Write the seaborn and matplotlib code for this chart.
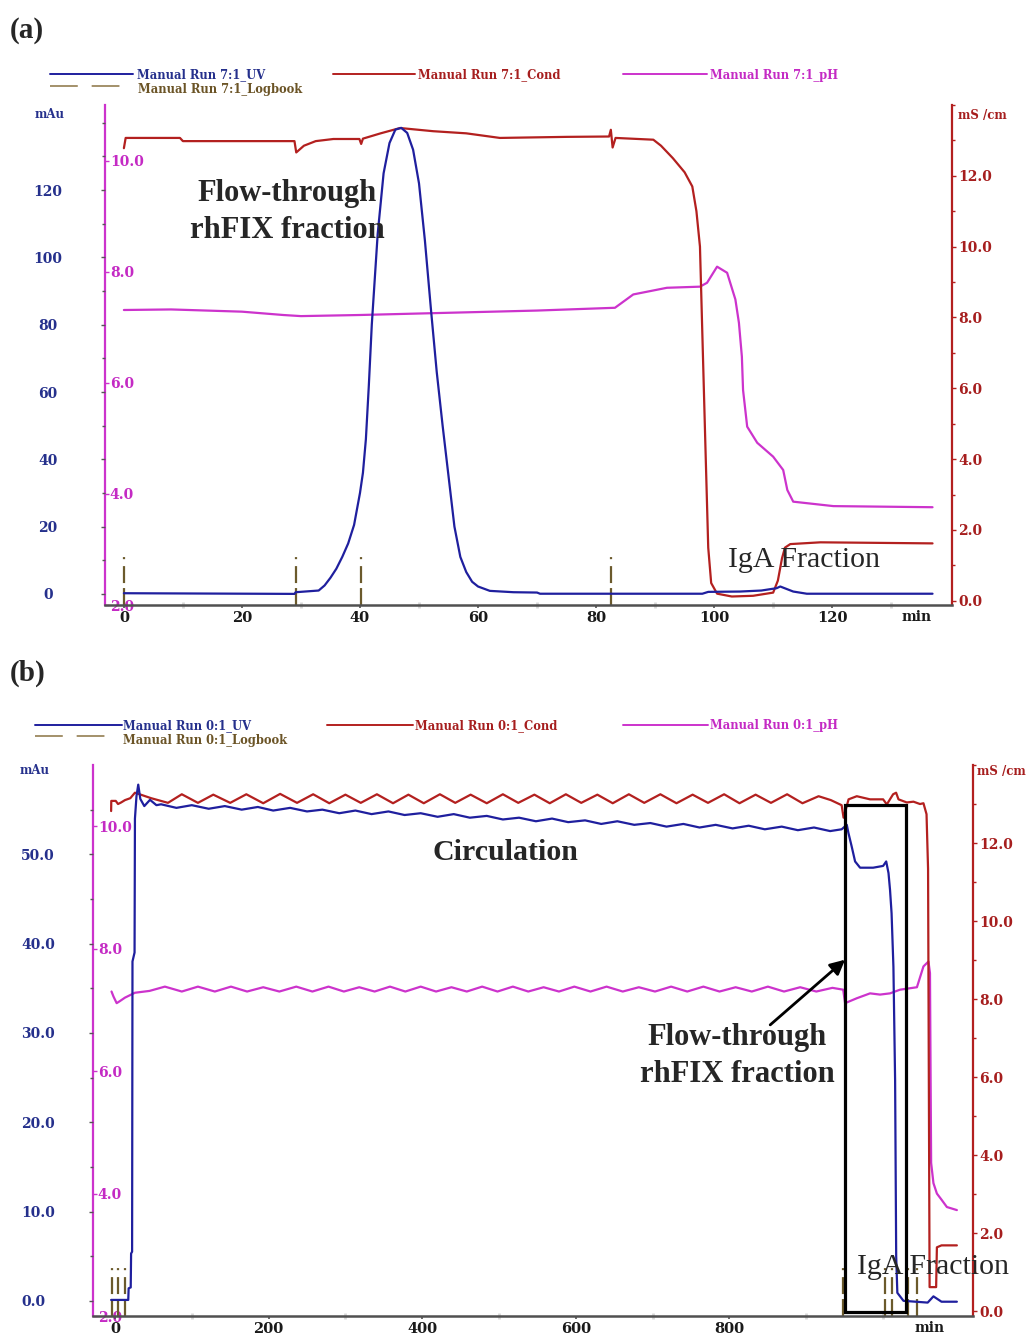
import numpy as np
import pandas as pd
import matplotlib
matplotlib.use("Agg")
import matplotlib.pyplot as plt
from matplotlib.lines import Line2D
from matplotlib.patches import Rectangle
import seaborn as sns

# ---------------- Run 7 (panel a): time [min], value ----------------
uv_a = [(0, 0.2), (28.9, 0.0), (29.1, 0.5), (33.0, 1.0), (34, 2.5), (35, 4.8), (36, 7.5),
        (37, 11), (38, 15), (39, 20.5), (40, 30), (40.5, 36), (41, 46), (41.5, 62), (42, 80),
        (43, 107), (44, 125), (45, 134), (46, 138), (47, 138.5), (48, 137), (49, 132),
        (50, 122), (51, 105), (52, 85), (53, 66), (54, 50), (55, 35), (56, 20), (57, 11),
        (58, 6.5), (59, 3.6), (60, 2.2), (62, 0.9), (66, 0.5), (70, 0.4), (70.5, 0.05),
        (98, 0.05), (99, 0.6), (104.4, 0.7), (108, 1.0), (110.6, 1.7), (111.2, 2.2),
        (113.4, 0.7), (115.7, 0.05), (137, 0.05)]

cond_a = [(0, 12.78), (0.3, 13.07), (9.5, 13.07), (10, 12.98), (28.9, 12.98), (29.2, 12.66),
          (30.5, 12.85), (32.5, 12.98), (35.5, 13.04), (39.9, 13.04), (40.2, 12.9), (40.5, 13.05),
          (43.5, 13.2), (46.8, 13.35), (52.4, 13.26), (58, 13.2), (63.7, 13.07), (75, 13.1),
          (82.2, 13.11), (82.5, 13.3), (82.8, 12.8), (83.3, 13.07), (89.7, 13.02), (91, 12.85),
          (93, 12.5), (95, 12.1), (96.3, 11.7), (97.0, 11.0), (97.6, 10.0), (98.5, 4.5),
          (99.0, 1.5), (99.5, 0.5), (100.5, 0.2), (103, 0.12), (106.6, 0.14), (110, 0.23),
          (110.8, 0.57), (111.5, 1.2), (112, 1.5), (112.9, 1.6), (118, 1.65), (137, 1.62)]

ph_a = [(0, 7.31), (8, 7.32), (20, 7.28), (27, 7.22), (30, 7.2), (40, 7.22), (55, 7.26),
        (70, 7.3), (83.2, 7.35), (86.3, 7.59), (92, 7.71), (97.6, 7.73), (98.8, 7.8),
        (100.5, 8.09), (102.2, 7.98), (103.6, 7.5), (104.2, 7.08), (104.7, 6.47), (104.9, 5.87),
        (105.6, 5.21), (107.3, 4.92), (110, 4.67), (111.7, 4.43), (112.4, 4.07), (113.4, 3.86),
        (120.2, 3.78), (137, 3.76)]

logbook_a = [0, 29.1, 40.2, 82.6]

# ---------------- Run 0 (panel b): time [min], value ----------------
uv_b = [(-5, 0.1), (17.3, 0.1), (17.8, 1.4), (20.5, 1.5), (21.0, 5.3), (22.3, 5.5), (22.8, 38.0),
        (25.5, 39.0), (26.0, 54.0), (28.0, 56.5), (30.3, 57.8), (33.0, 56.2), (38.2, 55.4),
        (45.6, 56.1), (54.0, 55.5), (60, 55.6), (80, 55.2), (100, 55.5), (122, 55.1), (143, 55.4),
        (165, 55.0), (186, 55.3), (206, 54.9), (228, 55.2), (250, 54.8), (270, 55.0), (292, 54.6),
        (313, 54.9), (334, 54.5), (356, 54.8), (377, 54.4), (398, 54.6), (420, 54.2), (441, 54.5),
        (462, 54.1), (484, 54.3), (505, 53.9), (526, 54.1), (548, 53.7), (569, 54.0), (590, 53.6),
        (612, 53.8), (633, 53.4), (654, 53.7), (676, 53.3), (697, 53.5), (718, 53.1), (740, 53.4),
        (761, 53.0), (782, 53.3), (804, 52.9), (825, 53.2), (846, 52.8), (868, 53.1), (889, 52.7),
        (910, 53.0), (931, 52.6), (946, 52.8), (952.7, 53.3), (954.8, 52.4), (959, 50.9),
        (963.5, 49.2), (970, 48.5), (987, 48.5), (1000, 48.7), (1004, 49.2), (1007, 47.9),
        (1009, 46.0), (1011, 43.4), (1013.4, 37.4), (1015.6, 24.7), (1017, 5.0), (1018.5, 0.9),
        (1026.5, 0.0), (1058, -0.2), (1065.5, 0.5), (1076, -0.1), (1096, -0.1)]

cond_b = [(-5, 12.82), (-4.8, 13.08), (1, 13.08), (4, 13.0), (8, 13.04), (13, 13.1), (20, 13.15),
          (26, 13.29), (47, 13.15), (69, 13.03), (87, 13.25), (108, 13.03), (128, 13.24),
          (150, 13.03), (171, 13.25), (193, 13.02), (215, 13.26), (237, 13.03), (258, 13.25),
          (279, 13.02), (300, 13.24), (320, 13.03), (341, 13.25), (362, 13.02), (382, 13.24),
          (402, 13.02), (423, 13.25), (443, 13.03), (463, 13.24), (484, 13.02), (505, 13.25),
          (525, 13.03), (546, 13.24), (566, 13.02), (587, 13.25), (607, 13.03), (628, 13.24),
          (648, 13.02), (669, 13.25), (689, 13.03), (710, 13.25), (731, 13.02), (752, 13.24),
          (772, 13.03), (793, 13.25), (813, 13.02), (834, 13.24), (854, 13.03), (875, 13.25),
          (895, 13.02), (916, 13.2), (932, 13.1), (946, 12.97), (948.5, 12.65), (955, 13.12),
          (965.7, 13.2), (983, 13.12), (1000, 13.12), (1004.8, 12.99), (1013, 13.25),
          (1016.9, 13.29), (1020, 13.12), (1030.8, 13.04), (1039.5, 13.06), (1048, 13.0),
          (1052.5, 13.02), (1056.5, 12.74), (1058.5, 11.34), (1059.5, 6.0), (1060.5, 0.62),
          (1069, 0.62), (1070, 1.64), (1076, 1.69), (1096, 1.69)]

ph_b = [(-4.5, 7.30), (-2.0, 7.22), (2.2, 7.11), (6, 7.14), (13, 7.20), (26, 7.28), (45, 7.31),
        (65, 7.38), (87, 7.30), (108, 7.38), (130, 7.30), (151, 7.38), (172, 7.30), (193, 7.37),
        (214, 7.30), (236, 7.38), (257, 7.30), (278, 7.38), (298, 7.30), (318, 7.37), (338, 7.30),
        (358, 7.38), (378, 7.30), (398, 7.38), (418, 7.30), (438, 7.37), (458, 7.30), (478, 7.38),
        (498, 7.30), (518, 7.38), (538, 7.30), (558, 7.37), (578, 7.30), (598, 7.38), (619, 7.30),
        (640, 7.38), (661, 7.30), (682, 7.37), (703, 7.30), (724, 7.38), (745, 7.30), (766, 7.38),
        (787, 7.30), (808, 7.37), (829, 7.30), (850, 7.38), (871, 7.30), (892, 7.37), (913, 7.30),
        (934, 7.36), (948, 7.33), (950.5, 7.11), (965.7, 7.19), (983, 7.27), (996, 7.25),
        (1009, 7.27), (1022, 7.33), (1044, 7.37), (1052.5, 7.71), (1059, 7.79), (1061, 7.6),
        (1061.8, 5.9), (1062.5, 4.5), (1065.5, 4.17), (1070, 4.0), (1076, 3.9), (1083, 3.78),
        (1096, 3.73)]

logbook_b = [-4, 4, 13, 948, 1003, 1011, 1033, 1044]

# tick values and their labels
x_ticks_a = [0, 20, 40, 60, 80, 100, 120]
x_ticks_b = [0, 200, 400, 600, 800]
uv_ticks_a = [0, 20, 40, 60, 80, 100, 120]
uv_ticks_b = [0, 10, 20, 30, 40, 50]
ph_ticks = [2, 4, 6, 8, 10]
cond_ticks = [0, 2, 4, 6, 8, 10, 12]

# flow-through window marked in run 0 (min, mAu)
window_b_time = (950.5, 1030)
window_b_uv = (-1.2, 55.5)

run_names = {"a": "Manual Run 7:1", "b": "Manual Run 0:1"}

# ---------------- styling ----------------
sns.set_theme(style="white")
plt.rcParams["font.family"] = ["DejaVu Serif"]
plt.rcParams["lines.scale_dashes"] = False

C_UV, C_COND, C_PH = "#1f1f9e", "#b3201f", "#cc33cc"
C_UV_TXT, C_COND_TXT, C_PH_TXT = "#25308c", "#a61e1e", "#c42ac4"
C_LOG, C_LOG_LEG, C_AXIS = "#6b5a2c", "#a3906a", "#505050"
SERIF = ["Liberation Serif", "DejaVu Serif"]

W, H = 1035, 1334
fig = plt.figure(figsize=(W / 100, H / 100), dpi=100)
fig.patch.set_facecolor("white")
PX = 100 / 72  # pixels per point


def fx(px):
    return px / W


def fy(py):
    return 1 - py / H


def draw_series(ax, pairs, name, color, lw=1.6):
    df = pd.DataFrame(pairs, columns=["time", name])
    sns.lineplot(data=df, x="time", y=name, ax=ax, color=color, lw=lw,
                 sort=False, estimator=None, errorbar=None, legend=False)
    ax.set(xlabel="", ylabel="")


def draw_panel(rect, xlim, uv_lim, uv, cond, ph, logbook, x_ticks, x_minor,
               uv_ticks, uv_minor, uv_fmt, uv_ha, uv_label_x):
    left, top, right, bottom = rect
    ax = fig.add_axes([fx(left), fy(bottom), fx(right - left), (bottom - top) / H])
    ax_ph = ax.twinx()
    ax_cond = ax.twinx()
    ax.set_zorder(ax_cond.get_zorder() + 1)
    ax.patch.set_visible(False)

    draw_series(ax_ph, ph, "pH", C_PH)
    draw_series(ax_cond, cond, "cond", C_COND)
    draw_series(ax, uv, "uv", C_UV)

    for t in logbook:
        ax.axvline(t, ymin=0, ymax=0.098, color=C_LOG, lw=1.6,
                   linestyle=(0, (12.2, 3.6, 12.2, 5, 1.5, 30)), zorder=1)

    ax.set_xlim(*xlim)
    ax.set_ylim(*uv_lim)
    ax_ph.set_ylim(2, 11)
    ax_cond.set_ylim(-0.12, 14.0)

    # spines
    for a in (ax, ax_ph, ax_cond):
        for s in a.spines.values():
            s.set_visible(False)
    ax.spines["bottom"].set_visible(True)
    ax.spines["bottom"].set_color(C_AXIS)
    ax.spines["bottom"].set_linewidth(1.8)
    ax_ph.spines["left"].set_visible(True)
    ax_ph.spines["left"].set_color(C_PH)
    ax_ph.spines["left"].set_linewidth(1.6)
    ax_cond.spines["right"].set_visible(True)
    ax_cond.spines["right"].set_color(C_COND)
    ax_cond.spines["right"].set_linewidth(1.6)

    # x axis
    ax.set_xticks(x_ticks, labels=[str(v) for v in x_ticks], fontsize=10.5,
                  fontweight="bold", color="#1a1a1a")
    ax.set_xticks(x_minor, minor=True)
    ax.tick_params(axis="x", which="major", direction="out", length=2.5, width=1.2,
                   color=C_AXIS, pad=2, bottom=True)
    ax.tick_params(axis="x", which="minor", direction="inout", length=4, width=2,
                   color="#d8d8d8", bottom=True)

    # UV axis (outer left)
    pad_uv = (left - uv_label_x) / PX - 3
    ax.yaxis.tick_left()
    ax.set_yticks(uv_ticks, labels=[uv_fmt.format(v) for v in uv_ticks], fontsize=10,
                  fontweight="bold", color=C_UV_TXT, ha=uv_ha)
    ax.set_yticks(uv_minor, minor=True)
    ax.tick_params(axis="y", which="both", direction="out", length=3, width=1,
                   color="#555555", pad=pad_uv, left=True)
    ax.tick_params(axis="y", which="minor", length=2.5)

    # pH axis (labels inside the left spine)
    ax_ph.yaxis.tick_left()
    ax_ph.set_yticks(ph_ticks, labels=[f"{v:.1f}" for v in ph_ticks], fontsize=10,
                     fontweight="bold", color=C_PH_TXT, ha="left")
    ax_ph.tick_params(axis="y", direction="in", length=3, width=1, color=C_PH,
                      pad=-3.5, left=True, right=False)

    # conductivity axis (right)
    ax_cond.set_yticks(cond_ticks, labels=[f"{v:.1f}" for v in cond_ticks], fontsize=10,
                       fontweight="bold", color=C_COND_TXT)
    ax_cond.set_yticks([1, 3, 5, 7, 9, 11, 13, 14], minor=True)
    ax_cond.tick_params(axis="y", which="both", direction="out", length=3, width=1,
                        color=C_COND, pad=1.5, right=True)
    ax_cond.tick_params(axis="y", which="minor", length=2.5)
    return ax


def draw_legend(row_y, row2_y, row2_text_y, uv_line, cond_line, ph_line, log_line, name):
    entries = [(uv_line, row_y, row_y + 1, C_UV, C_UV_TXT, f"{name}_UV", "-"),
               (cond_line, row_y, row_y + 1, C_COND, C_COND_TXT, f"{name}_Cond", "-"),
               (ph_line, row_y, row_y + 1, C_PH, C_PH_TXT, f"{name}_pH", "-"),
               (log_line, row2_y, row2_text_y, C_LOG_LEG, "#6b5426", f"{name}_Logbook",
                (0, (20, 10)))]
    for (x0, x1, xt), y, yt, lc, tc, label, ls in entries:
        fig.add_artist(Line2D([fx(x0), fx(x1)], [fy(y), fy(y)], transform=fig.transFigure,
                              color=lc, lw=1.4, linestyle=ls))
        fig.text(fx(xt), fy(yt), label, fontsize=8.3, fontweight="bold", color=tc,
                 ha="left", va="center")


# ---------------- panel (a) ----------------
ax_a = draw_panel((105, 105, 952, 605), (-3.2, 140.3), (-3.3, 145.3), uv_a, cond_a, ph_a,
                  logbook_a, x_ticks_a, list(range(10, 140, 20)),
                  uv_ticks_a, [10, 30, 50, 70, 90, 110, 130, 140], "{:.0f}", "center", 48)
draw_legend(74, 86, 89, (50, 133, 137), (333, 415, 418), (623, 707, 710), (50, 120, 138),
            run_names["a"])

fig.text(fx(10), fy(30), "(a)", fontsize=21, fontweight="bold", family=SERIF,
         ha="left", va="center")
fig.text(fx(35), fy(115), "mAu", fontsize=8.5, fontweight="bold", color=C_UV_TXT,
         ha="left", va="center")
fig.text(fx(958), fy(115), "mS /cm", fontsize=8.5, fontweight="bold", color=C_COND_TXT,
         ha="left", va="center")
fig.text(fx(917), fy(617), "min", fontsize=10, fontweight="bold", color="#1a1a1a",
         ha="center", va="center")
fig.text(fx(287), fy(212), "Flow-through\nrhFIX fraction", fontsize=22, fontweight="bold",
         family=SERIF, ha="center", va="center", linespacing=1.32)
fig.text(fx(804), fy(560), "IgA Fraction", fontsize=21.5, family=SERIF,
         ha="center", va="center")

# ---------------- panel (b) ----------------
ax_b = draw_panel((93, 765, 973, 1316), (-28.6, 1117), (-1.7, 60.0), uv_b, cond_b, ph_b,
                  logbook_b, x_ticks_b, [100, 300, 500, 700, 900, 1000],
                  uv_ticks_b, [5, 15, 25, 35, 45, 55], "{:.1f}", "left", 21)
draw_legend(725, 736, 741, (35, 122, 123), (327, 413, 415), (623, 708, 710), (35, 112, 123),
            run_names["b"])

ax_b.add_patch(Rectangle((window_b_time[0], window_b_uv[0]),
                         window_b_time[1] - window_b_time[0],
                         window_b_uv[1] - window_b_uv[0],
                         fill=False, ec="black", lw=2.3, zorder=5))
ax_b.annotate("", xy=(window_b_time[0], 38.2), xytext=(853, 30.9),
              arrowprops=dict(arrowstyle="-|>", color="black", lw=2,
                              mutation_scale=22, shrinkA=0, shrinkB=0), zorder=5)

fig.text(fx(10), fy(673), "(b)", fontsize=21, fontweight="bold", family=SERIF,
         ha="left", va="center")
fig.text(fx(20), fy(770), "mAu", fontsize=8.5, fontweight="bold", color=C_UV_TXT,
         ha="left", va="center")
fig.text(fx(977), fy(771), "mS /cm", fontsize=8.5, fontweight="bold", color=C_COND_TXT,
         ha="left", va="center")
fig.text(fx(930), fy(1328), "min", fontsize=10, fontweight="bold", color="#1a1a1a",
         ha="center", va="center")
fig.text(fx(505), fy(852), "Circulation", fontsize=21.5, fontweight="bold", family=SERIF,
         ha="center", va="center")
fig.text(fx(737), fy(1056), "Flow-through\nrhFIX fraction", fontsize=22, fontweight="bold",
         family=SERIF, ha="center", va="center", linespacing=1.32)
fig.text(fx(933), fy(1267), "IgA Fraction", fontsize=21.5, family=SERIF,
         ha="center", va="center")

fig.savefig("out.png", dpi=100, facecolor="white")
